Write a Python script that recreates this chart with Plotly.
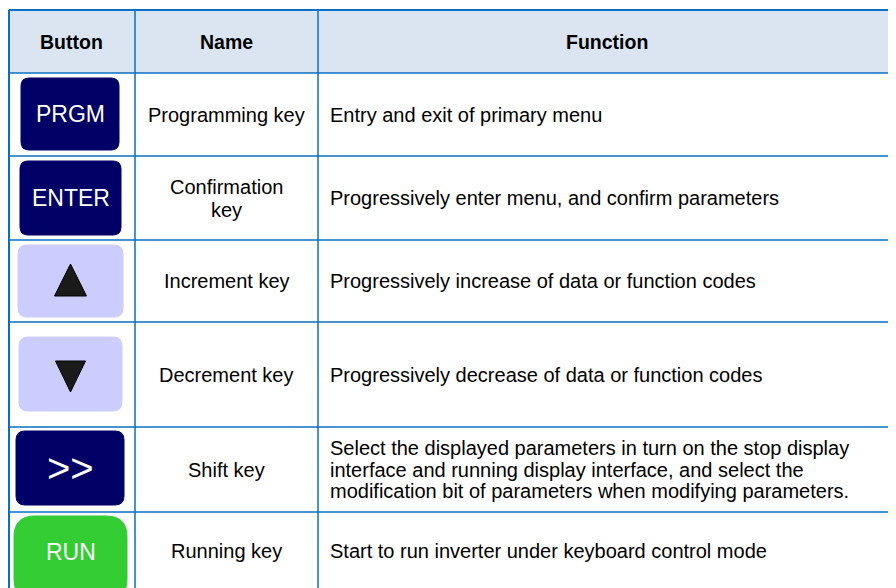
import plotly.graph_objects as go

# ---------------- data ----------------
headers = ["Button", "Name", "Function"]
button_labels = ["PRGM", "ENTER", "▲", "▼", ">>", "RUN"]
button_styles = ["dark", "dark", "light", "light", "dark", "green"]
names = [["Programming key"], ["Confirmation", "key"], ["Increment key"],
         ["Decrement key"], ["Shift key"], ["Running key"]]
functions = [
    ["Entry and exit of primary menu"],
    ["Progressively enter menu, and confirm parameters"],
    ["Progressively increase of data or function codes"],
    ["Progressively decrease of data or function codes"],
    ["Select the displayed parameters in turn on the stop display",
     "interface and running display interface, and select the",
     "modification bit of parameters when modifying parameters."],
    ["Start to run inverter under keyboard control mode"],
]

# ---------------- layout (pixel geometry of the page) ----------------
W, H = 896, 588
OFF = 8  # page body margin: figure starts 8px in from the window edges
row_edges = [10, 73, 156, 240, 322, 427, 512, 600]
col_edges = [9, 135, 318, 896]
button_boxes = [  # x0, x1, y0, y1, radius
    (21, 119, 78, 150, 8),
    (20, 121, 161, 235, 8),
    (18, 123, 245, 317, 9),
    (19, 122, 337, 411, 9),
    (16, 124, 431, 505, 9),
    (14, 127, 516, 600, 21),
]
style_fill = {"dark": "#000066", "light": "#CCCCFF", "green": "#33CC33"}
BORDER = "#0A6FC2"
FONT = "Liberation Sans, Arial, sans-serif"


def rrect(x0, y0, x1, y1, r):
    return (f"M {x0+r},{y0} L {x1-r},{y0} Q {x1},{y0} {x1},{y0+r} "
            f"L {x1},{y1-r} Q {x1},{y1} {x1-r},{y1} L {x0+r},{y1} "
            f"Q {x0},{y1} {x0},{y1-r} L {x0},{y0+r} Q {x0},{y0} {x0+r},{y0} Z")


shapes = []
annotations = []

# header background
shapes.append(dict(type="rect", x0=col_edges[0], x1=col_edges[-1] + 2,
                   y0=row_edges[0], y1=row_edges[1],
                   fillcolor="#DBE5F1", line=dict(width=0), layer="below"))

# horizontal lines
for i, y in enumerate(row_edges[:-1]):
    shapes.append(dict(type="line", x0=col_edges[0], x1=col_edges[-1] + 2,
                       y0=y, y1=y,
                       line=dict(color=BORDER, width=2 if i == 0 else 1.5)))
# vertical lines
for i, x in enumerate(col_edges[:-1]):
    shapes.append(dict(type="line", x0=x, x1=x, y0=row_edges[0],
                       y1=row_edges[-1],
                       line=dict(color=BORDER, width=2 if i == 0 else 1.5)))

# headers
for j, h in enumerate(headers):
    annotations.append(dict(x=(col_edges[j] + col_edges[j + 1]) / 2 - (1 if j == 0 else 0),
                            y=(row_edges[0] + row_edges[1]) / 2,
                            text=f"<b>{h}</b>", showarrow=False,
                            xanchor="center", yanchor="middle",
                            font=dict(family=FONT, size=19.5, color="#000000")))

# rows
for i in range(len(button_labels)):
    y0, y1 = row_edges[i + 1], row_edges[i + 2]
    yc = (y0 + min(y1, 588)) / 2 if i < 5 else 551
    bx0, bx1, by0, by1, r = button_boxes[i]
    shapes.append(dict(type="path", path=rrect(bx0, by0, bx1, by1, r),
                       fillcolor=style_fill[button_styles[i]],
                       line=dict(color=style_fill[button_styles[i]], width=1)))
    bxc = (bx0 + bx1) / 2
    byc = (by0 + min(by1, 588)) / 2 if i < 5 else 552
    lab = button_labels[i]
    if lab == "▲":
        shapes.append(dict(type="path",
                           path=f"M {bxc-16},{byc+15} L {bxc+16},{byc+15} L {bxc},{byc-17} Z",
                           fillcolor="#1A1A1A", line=dict(color="#000000", width=1)))
    elif lab == "▼":
        shapes.append(dict(type="path",
                           path=f"M {bxc-15},{byc-13} L {bxc+15},{byc-13} L {bxc},{byc+18} Z",
                           fillcolor="#1A1A1A", line=dict(color="#000000", width=1)))
    else:
        annotations.append(dict(x=bxc, y=byc, text=lab, showarrow=False,
                                xanchor="center", yanchor="middle",
                                font=dict(family=FONT,
                                          size=40 if lab == ">>" else 23,
                                          color="#FFFFFF")))
    # name
    nl = names[i]
    sp = 23
    for k, t in enumerate(nl):
        annotations.append(dict(x=(col_edges[1] + col_edges[2]) / 2,
                                y=yc + (k - (len(nl) - 1) / 2) * sp,
                                text=t, showarrow=False,
                                xanchor="center", yanchor="middle",
                                font=dict(family=FONT, size=20, color="#000000")))
    # function
    fl = functions[i]
    sp = 21.5
    for k, t in enumerate(fl):
        annotations.append(dict(x=col_edges[2] + 10,
                                y=yc + (k - (len(fl) - 1) / 2) * sp,
                                text=t, showarrow=False,
                                xanchor="left", yanchor="middle",
                                font=dict(family=FONT, size=20, color="#000000")))

FIG_W, FIG_H = W - OFF, H - OFF
fig = go.Figure()
fig.update_layout(
    width=FIG_W, height=FIG_H, margin=dict(l=0, r=0, t=0, b=0, pad=0),
    paper_bgcolor="#FFFFFF", plot_bgcolor="#FFFFFF",
    xaxis=dict(range=[OFF, OFF + FIG_W], visible=False, fixedrange=True),
    yaxis=dict(range=[OFF + FIG_H, OFF], visible=False, fixedrange=True),
    shapes=shapes, annotations=annotations, showlegend=False,
)
fig.write_html("out.html")
